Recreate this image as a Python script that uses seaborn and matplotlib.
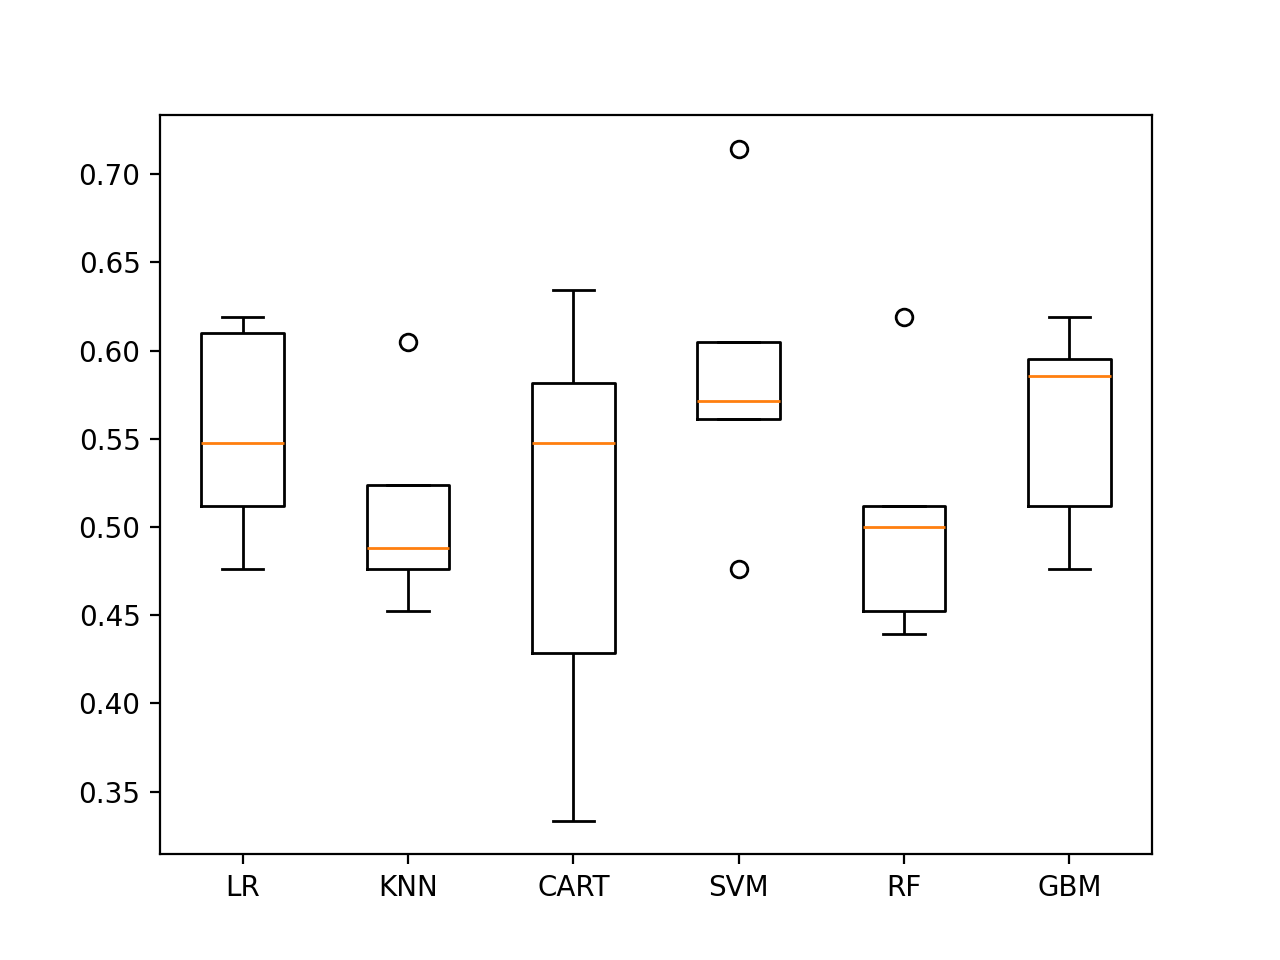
import pandas as pd
import matplotlib
matplotlib.use("Agg")
import matplotlib.pyplot as plt
import seaborn as sns

# cross-validation scores per model
models = ["LR", "KNN", "CART", "SVM", "RF", "GBM"]
lr = [0.4762, 0.5000, 0.5119, 0.5119, 0.5476, 0.5476, 0.6102, 0.6102, 0.6190, 0.6190]
knn = [0.4524, 0.4762, 0.4762, 0.4762, 0.4762, 0.5000, 0.5238, 0.5238, 0.5238, 0.6049]
cart = [0.3335, 0.4000, 0.4288, 0.4288, 0.5476, 0.5476, 0.5816, 0.5816, 0.6100, 0.6344]
svm = [0.4762, 0.5612, 0.5612, 0.5612, 0.5714, 0.5714, 0.6050, 0.6050, 0.6050, 0.7143]
rf = [0.4394, 0.4526, 0.4526, 0.4526, 0.5000, 0.5000, 0.5121, 0.5121, 0.5121, 0.6190]
gbm = [0.4762, 0.5000, 0.5121, 0.5121, 0.5856, 0.5856, 0.5952, 0.5952, 0.6190, 0.6190]

scores = [lr, knn, cart, svm, rf, gbm]
df = pd.DataFrame(
    [(m, s) for m, vals in zip(models, scores) for s in vals],
    columns=["model", "score"],
)

fig = plt.figure(figsize=(6.4, 4.8), dpi=200)
ax = fig.add_subplot(111)

sns.boxplot(
    data=df, x="model", y="score", order=models, ax=ax,
    width=0.5, fill=False, color="black", linewidth=1,
    capwidths=0.25,
    medianprops=dict(color="#ff7f0e", linewidth=1),
    flierprops=dict(marker="o", markerfacecolor="none",
                    markeredgecolor="black", markersize=6, linewidth=1),
)
ax.set_xlabel("")
ax.set_ylabel("")

fig.savefig("out.png", dpi=200)
